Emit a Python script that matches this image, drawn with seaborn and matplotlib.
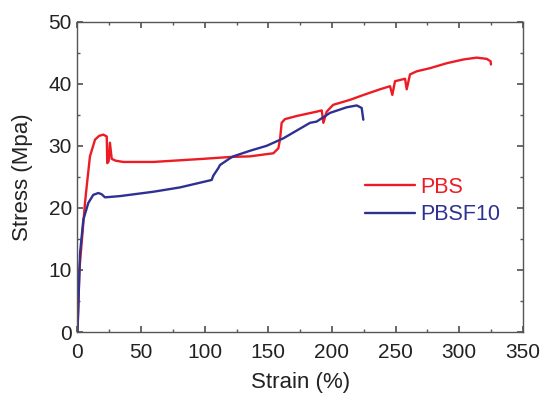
import numpy as np
import pandas as pd
import matplotlib
matplotlib.use("Agg")
import matplotlib.pyplot as plt
import seaborn as sns

# PBS stress-strain curve
pbs_strain = [0, 1.5, 3.7, 5.9, 7.2, 9.8, 13.8, 17, 20.3, 23, 23.4, 24.5, 25.5, 26.9, 30, 36,
              59.6, 98.9, 119.9, 135.6, 154, 157.9, 159.2, 160.5, 163.1, 172.3, 188, 192,
              193.3, 195.9, 201, 214.2, 225, 237.8, 245.7, 247.5, 249.6, 257.5, 258.8,
              261.4, 266.7, 277.1, 290.3, 303.3, 313.8, 321.7, 324.8, 325]
pbs_stress = [0, 10, 15.4, 20.8, 23.4, 28.3, 31, 31.6, 31.8, 31.5, 27.2, 27.5, 30.5, 27.9, 27.6, 27.4,
              27.4, 27.9, 28.2, 28.3, 28.8, 29.6, 31, 33.7, 34.3, 34.8, 35.5, 35.7,
              33.7, 35.5, 36.6, 37.4, 38.2, 39.1, 39.6, 38.2, 40.4, 40.8, 39.1,
              41.5, 42, 42.5, 43.3, 43.9, 44.2, 44, 43.6, 43.1]

# PBSF10 stress-strain curve
pbsf_strain = [0, 2, 4.6, 8.5, 12.4, 16.4, 19, 21.6, 33.4, 59.6, 80.6, 105.5, 106.8, 110.7,
               112, 119.9, 122.5, 135.6, 148.7, 161.8, 182.8, 188, 198.5, 211.6, 219.5,
               223.4, 224.7]
pbsf_stress = [0, 12.7, 18.1, 20.8, 22.1, 22.4, 22.2, 21.7, 21.9, 22.6, 23.3, 24.5, 25.2, 26.4,
               26.9, 28, 28.3, 29.2, 30, 31.2, 33.7, 33.9, 35.3, 36.2, 36.5,
               36.1, 34.2]

labels = ["PBS", "PBSF10"]
colors = ["#ED1C24", "#2E3192"]

x_ticks = [0, 50, 100, 150, 200, 250, 300, 350]
y_ticks = [0, 10, 20, 30, 40, 50]

df = pd.concat([
    pd.DataFrame({"Strain": pbs_strain, "Stress": pbs_stress, "Sample": labels[0]}),
    pd.DataFrame({"Strain": pbsf_strain, "Stress": pbsf_stress, "Sample": labels[1]}),
], ignore_index=True)

sns.set_theme(style="ticks")
plt.rcParams["font.family"] = ["Liberation Sans", "DejaVu Sans"]

fig = plt.figure(figsize=(5.4, 3.93), dpi=100)
ax = fig.add_axes([0.1435, 0.155, 0.8245, 0.79])

sns.lineplot(data=df, x="Strain", y="Stress", hue="Sample", palette=dict(zip(labels, colors)),
             estimator=None, sort=False, linewidth=1.7, ax=ax)

ax.set_xlim(0, 350)
ax.set_ylim(0, 50)
ax.set_xticks(x_ticks)
ax.set_yticks(y_ticks)
ax.set_xticks(np.arange(25, 350, 50), minor=True)
ax.set_yticks(np.arange(5, 50, 10), minor=True)
ax.tick_params(which="both", direction="in", top=True, right=True, color="#555555",
               labelsize=15, pad=4, labelcolor="#222222")
ax.tick_params(axis="x", which="both", pad=8)
ax.tick_params(which="major", length=4)
ax.tick_params(which="minor", length=2.5)
for s in ax.spines.values():
    s.set_color("#555555")
    s.set_linewidth(1.0)
ax.set_xlabel("Strain (%)", fontsize=16, color="#222222", labelpad=7)
ax.set_ylabel("Stress (Mpa)", fontsize=16, color="#222222", labelpad=11)

leg = ax.legend(loc="upper left", bbox_to_anchor=(0.646, 0.50), frameon=False,
                borderaxespad=0, borderpad=0,
                handlelength=2.3, handletextpad=0.25, labelspacing=0.3, fontsize=15.5,
                labelcolor="linecolor")
for h in leg.get_lines():
    h.set_linewidth(1.7)

fig.savefig("out.png", dpi=100)
